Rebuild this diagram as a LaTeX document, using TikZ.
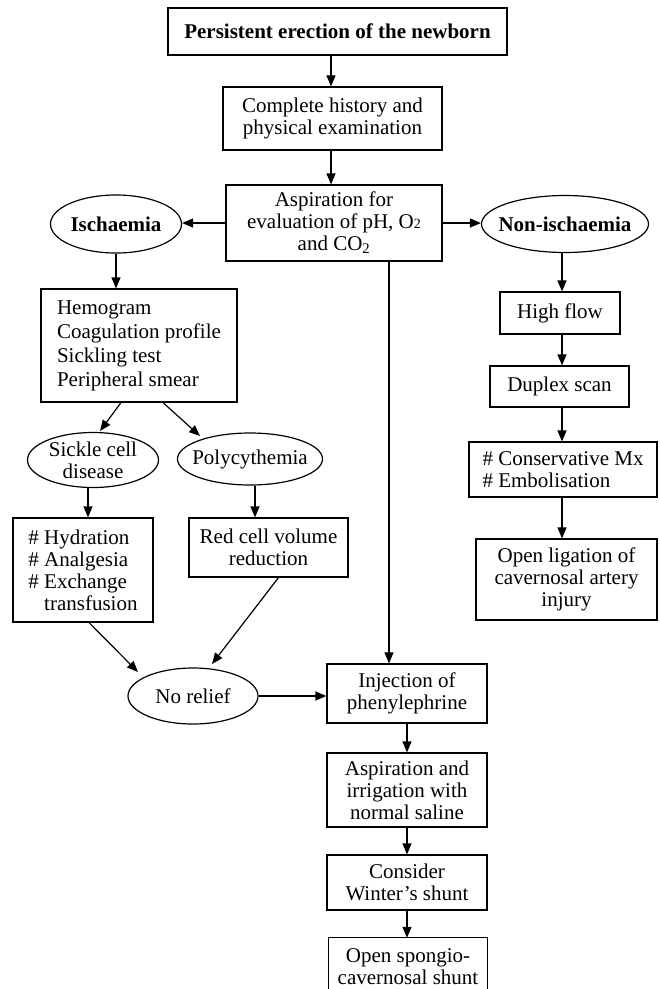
\documentclass[tikz,border=0pt]{standalone}
\usepackage{fontspec}
\setmainfont{Liberation Serif}
\usetikzlibrary{arrows.meta,shapes.geometric,calc}
\begin{document}
\begin{tikzpicture}[x=1pt,y=-1pt,
  txt/.style={font=\fontsize{21}{22}\selectfont, align=center, inner sep=0pt, text=black},
  bx/.style={txt, draw, rectangle, line width=1.2pt},
  el/.style={draw, ellipse, inner sep=0pt, line width=1.2pt},
  arr/.style={line width=1.2pt, -{Triangle[length=11pt,width=9pt]}}]
\useasboundingbox (0,0) rectangle (660,989);

% main column
\node[bx, minimum width=339pt, minimum height=47pt, font=\fontsize{21}{22}\selectfont\bfseries] (b1) at (337.5,31.5) {Persistent erection of the newborn};
\node[bx, minimum width=219pt, minimum height=63pt] (b2) at (332.5,118.5) {Complete history and\\physical examination};
\node[bx, minimum width=216pt, minimum height=76pt] (b3) at (334,223) {Aspiration for\\evaluation of pH, O{\fontsize{14}{14}\selectfont 2}\\and CO\textsubscript{2}};

\node[el, minimum width=131pt, minimum height=58pt, label={[txt, font=\fontsize{21}{22}\selectfont\bfseries]center:Ischaemia}] (isch) at (116,224) {};
\node[el, minimum width=167pt, minimum height=57pt, label={[txt, font=\fontsize{21}{22}\selectfont\bfseries]center:Non-ischaemia}] (nonisch) at (565,224) {};

% ischaemia branch
\node[bx, minimum width=196pt, minimum height=113pt, align=left, font=\fontsize{21}{24}\selectfont] (hemo) at (139,345.5) {Hemogram\\Coagulation profile\\Sickling test\\Peripheral smear};
\node[el, minimum width=131pt, minimum height=55pt, label={[txt]center:Sickle cell\\disease}] (sickle) at (93,460) {};
\node[el, minimum width=145pt, minimum height=52pt, label={[txt]center:Polycythemia}] (poly) at (250,459) {};
\node[bx, minimum width=140pt, minimum height=104pt, align=left] (hyd) at (83,570) {\# Hydration\\\# Analgesia\\\# Exchange\\\phantom{\# }transfusion};
\node[bx, minimum width=159pt, minimum height=59pt] (red) at (268.5,547.5) {Red cell volume\\reduction};
\node[el, minimum width=130pt, minimum height=56pt, label={[txt]center:No relief}] (relief) at (193,696) {};

% lower column
\node[bx, minimum width=160pt, minimum height=59pt] (inj) at (407,693.5) {Injection of\\phenylephrine};
\node[bx, minimum width=160pt, minimum height=74pt] (asp) at (407,790) {Aspiration and\\irrigation with\\normal saline};
\node[bx, minimum width=160pt, minimum height=55pt] (cons) at (407,882.5) {Consider\\Winter's shunt};
\node[txt, minimum width=159pt, minimum height=58pt] (last) at (408,967) {Open spongio-\\cavernosal shunt};
\draw[line width=1.2pt] (last.south west) -- (last.north west) -- (last.north east) -- (last.south east);

% non-ischaemia branch
\node[bx, minimum width=120pt, minimum height=42pt] (high) at (560,313) {High flow};
\node[bx, minimum width=139pt, minimum height=41pt] (dup) at (559.5,386.5) {Duplex scan};
\node[bx, minimum width=188pt, minimum height=55pt, align=left] (consv) at (563,469.5) {\# Conservative Mx\\\# Embolisation};
\node[bx, minimum width=181pt, minimum height=81pt] (lig) at (566.5,579.5) {Open ligation of\\cavernosal artery\\injury};

% helper coordinates
\coordinate (ax) at (331,0);
\coordinate (vx) at (389,0);
\coordinate (sx) at (88,0);
\coordinate (px) at (255,0);
\coordinate (rx) at (562,0);
\coordinate (lx) at (407,0);

% connectors
\draw[arr] (b1.south -| ax) -- (b2.north -| ax);
\draw[arr] (b2.south -| ax) -- (b3.north -| ax);
\draw[arr] (b3.west) -- (b3.west -| isch.east);
\draw[arr] (b3.east) -- (b3.east -| nonisch.west);
\draw[arr] (isch.south) -- (isch.south |- hemo.north);
\draw[arr] ($(hemo.south)+(-18,0)$) -- ($(sickle.center)+(7,-29)$);
\draw[arr] ($(hemo.south)+(24,0)$) -- ($(poly.center)+(-50,-23)$);
\draw[arr] (sickle.south -| sx) -- (hyd.north -| sx);
\draw[arr] (poly.south -| px) -- (red.north -| px);
\draw[arr] ($(hyd.south)+(6,0)$) -- ($(relief.center)+(-55,-24)$);
\draw[arr] ($(red.south)+(10,0)$) -- ($(relief.center)+(19,-32)$);
\draw[arr] (relief.east) -- (relief.east -| inj.west);
\draw[arr] (b3.south -| vx) -- (inj.north -| vx);
\draw[arr] (inj.south -| lx) -- (asp.north -| lx);
\draw[arr] (asp.south -| lx) -- (cons.north -| lx);
\draw[arr] (cons.south -| lx) -- (last.north -| lx);
\draw[arr] (nonisch.south -| rx) -- (high.north -| rx);
\draw[arr] (high.south -| rx) -- (dup.north -| rx);
\draw[arr] (dup.south -| rx) -- (consv.north -| rx);
\draw[arr] (consv.south -| rx) -- (lig.north -| rx);
\end{tikzpicture}
\end{document}
